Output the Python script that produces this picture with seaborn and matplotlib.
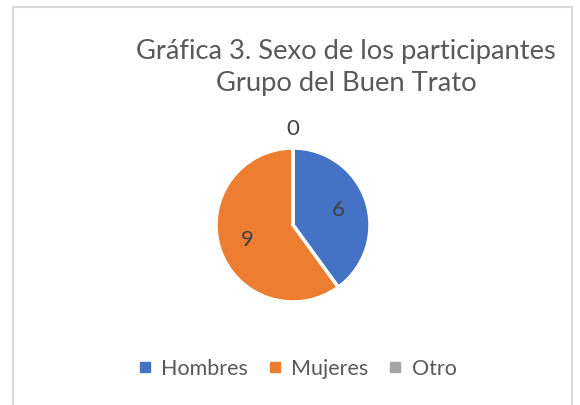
import matplotlib
matplotlib.use("Agg")
import matplotlib.pyplot as plt
from matplotlib.lines import Line2D
import seaborn as sns

# Datos de la gráfica
categorias = ["Hombres", "Mujeres", "Otro"]
valores = [6, 9, 0]
colores = ["#4472C4", "#ED7D31", "#A5A5A5"]
titulo = "Gráfica 3. Sexo de los participantes\nGrupo del Buen Trato"

sns.set_theme(style="white")
plt.rcParams["font.family"] = ["Lato", "DejaVu Sans"]
gris_texto = "#595959"

fig = plt.figure(figsize=(5.8, 4.05), dpi=100)

# Ejes del pastel, centrado en (293, 225) px con radio 77 px
r_px = 77 * 1.25
cx, cy = 293, 405 - 225
ax = fig.add_axes([(cx - r_px) / 580, (cy - r_px) / 405, 2 * r_px / 580, 2 * r_px / 405])

wedges, textos = ax.pie(
    valores,
    labels=[str(v) for v in valores],
    colors=colores,
    startangle=90,
    counterclock=False,
    labeldistance=0.62,
    wedgeprops=dict(edgecolor="white", linewidth=2.5),
    textprops=dict(color="#404040", fontsize=16),
)
for t in textos:
    t.set_ha("center")
    t.set_va("center")
# etiqueta del valor cero, por encima del pastel
textos[2].set_position((0, 1.25))
textos[2].set_clip_on(False)

# Título
fig.text(346 / 580, 1 - 67 / 405, titulo, ha="center", va="center",
         fontsize=19.7, color=gris_texto, linespacing=1.35)

# Leyenda
handles = [Line2D([0], [0], marker="s", linestyle="", markersize=7,
                  markerfacecolor=c, markeredgecolor=c) for c in colores]
fig.legend(handles, categorias, loc="center", bbox_to_anchor=(297 / 580, 1 - 369 / 405),
           ncol=3, frameon=False, fontsize=15.5, handlelength=0.7, handletextpad=0.4,
           columnspacing=0.9, labelcolor=gris_texto)

# Borde del área del gráfico
borde = "#D9D9D9"
x0, x1, y_top = 13 / 580, 572 / 580, 1 - 7 / 405
fig.add_artist(Line2D([x0, x0], [0, y_top], color=borde, lw=1.5))
fig.add_artist(Line2D([x0, x1], [y_top, y_top], color=borde, lw=1.5))
fig.add_artist(Line2D([x1, x1], [0, y_top], color=borde, lw=1.5))

fig.savefig("out.png", dpi=100, facecolor="white")
